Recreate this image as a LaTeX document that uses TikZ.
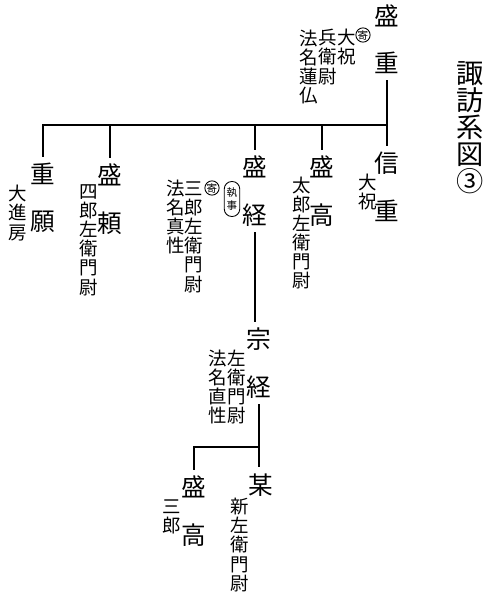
\documentclass[tikz,border=0pt]{standalone}
\usepackage{fontspec}
\setmainfont{Noto Sans CJK JP}
\usepackage{tikz}
\usetikzlibrary{positioning}
\tikzset{
  suwaname/.style={inner sep=1.2mm,align=center,font=\fontsize{14}{27}\selectfont},
  suwanote/.style={inner sep=0pt,align=center,font=\fontsize{10.5}{10.9}\selectfont},
  suwatitle/.style={inner sep=0pt,align=center,font=\fontsize{15.5}{15.4}\selectfont},
  suwayori/.style={draw,circle,line width=0.5pt,inner sep=0pt,minimum size=2.7mm,font=\fontsize{6}{6}\selectfont},
  suwarole/.style={draw,rounded corners=1.5mm,line width=0.5pt,inner sep=0pt,minimum width=3.1mm,minimum height=7mm,align=center,font=\fontsize{6}{7.5}\selectfont},
  suwaline/.style={line width=0.8pt},
}
\begin{document}
\begin{tikzpicture}[x=0.2mm,y=-0.2mm]
\useasboundingbox (0,0) rectangle (500,600);
% title
\node[suwatitle] (title) at (470,128) {諏\\訪\\系\\図\\③};
% persons
\node[suwaname] (morishige) at (387,39) {盛\\重};
\node[suwaname] (jugan) at (43,198) {重\\願};
\node[suwaname] (moriyori) at (110,199) {盛\\頼};
\node[suwaname] (moritsune) at (255,191) {盛\\経};
\node[suwaname] (moritaka) at (322,191) {盛\\高};
\node[suwaname] (nobushige) at (387,187) {信\\重};
\node[suwaname] (munetsune) at (259,363) {宗\\経};
\node[suwaname] (moritakaB) at (194,511) {盛\\高};
\node[suwaname] (bou) at (261,485) {某};
% notes
\node[suwayori] (yori1) at (363,35) {寄};
\node[suwanote] (n1a) at (347,47) {大\\祝};
\node[suwanote] (n1b) at (328,57) {兵\\衛\\尉};
\node[suwanote] (n1c) at (309,67) {法\\名\\蓮\\仏};
\node[suwanote] (n2) at (18,213) {大\\進\\房};
\node[suwanote] (n3) at (89,240) {四\\郎\\左\\衛\\門\\尉};
\node[suwarole] (shitsuji) at (232,199) {執\\事};
\node[suwayori] (yori2) at (212,188) {寄};
\node[suwanote] (n4a) at (194,237) {三\\郎\\左\\衛\\門\\尉};
\node[suwanote] (n4b) at (176,217) {法\\名\\真\\性};
\node[suwanote] (n5) at (302,233) {太\\郎\\左\\衛\\門\\尉};
\node[suwanote] (n6) at (368,192) {大\\祝};
\node[suwanote] (n7a) at (237,387) {左\\衛\\門\\尉};
\node[suwanote] (n7b) at (218,387) {法\\名\\直\\性};
\node[suwanote] (n8) at (172,517) {三\\郎};
\node[suwanote] (n9) at (240,545) {新\\左\\衛\\門\\尉};
% lines
\coordinate (bar) at (387,125);
\draw[suwaline] (morishige.south) -- (bar) -- (bar -| jugan.north) -- (jugan.north);
\foreach \k in {moriyori,moritsune,moritaka,nobushige}
  \draw[suwaline] (\k.north |- bar) -- (\k.north);
\draw[suwaline] (moritsune.south) -- (moritsune.south |- munetsune.north);
\coordinate (fork) at (261,447);
\draw[suwaline] (munetsune.south) -- (munetsune.south |- fork) -| (moritakaB.north);
\draw[suwaline] (munetsune.south |- fork) -- (munetsune.south |- bou.north);
\end{tikzpicture}
\end{document}
